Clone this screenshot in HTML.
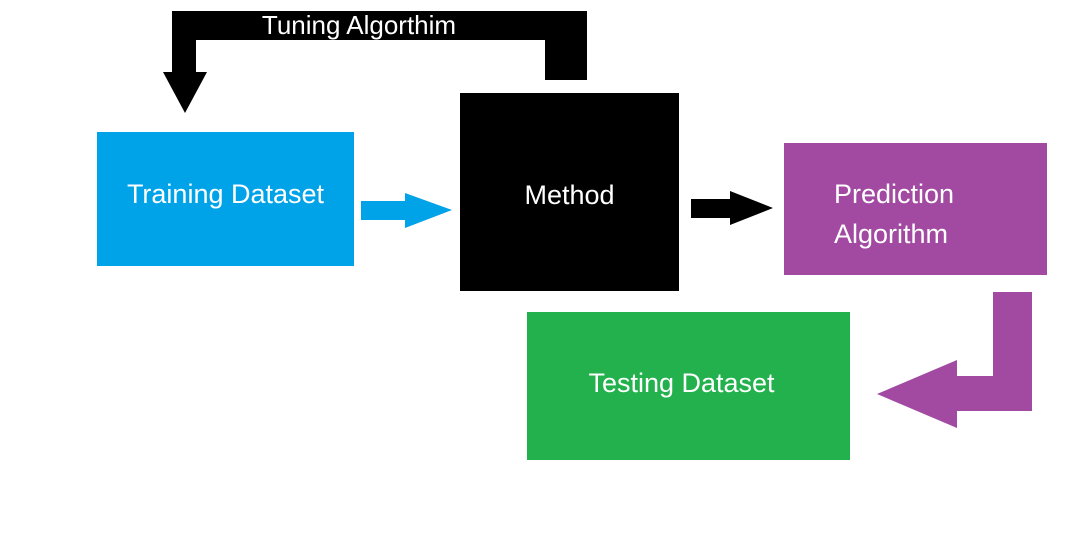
<!DOCTYPE html>
<html><head><style>
body{margin:0;width:1085px;height:546px;background:#fff;position:relative;overflow:hidden;font-family:"Liberation Sans",sans-serif}
.b{position:absolute;color:#fff;font-size:27px;display:flex;align-items:center;justify-content:center;text-align:center;line-height:40px}
</style></head><body>
<svg width="1085" height="546" style="position:absolute;left:0;top:0">
<polygon points="172,11 587,11 587,80 545,80 545,40 196,40 196,72 207,72 185,113 163,72 172,72" fill="#000"/>
<polygon points="993,292 1032,292 1032,411 957,411 957,428 877,394 957,360 957,376 993,376" fill="#a24aa2"/>
<polygon points="361,201 405,201 405,193 452,210 405,228 405,220 361,220" fill="#00a2e8"/>
<polygon points="691,199 730,199 730,191 773,208 730,225 730,218 691,218" fill="#000"/>
</svg>
<div class="b" style="left:172px;top:8px;width:374px;height:34px;font-size:26px">Tuning Algorthim</div>
<div class="b" style="left:97px;top:132px;width:257px;height:124px;background:#00a2e8;padding-bottom:10px">Training Dataset</div>
<div class="b" style="left:460px;top:99px;width:219px;height:192px;background:#000;box-shadow:0 -6px 0 #000">Method</div>
<div class="b" style="left:784px;top:143px;width:263px;height:132px;background:#a24aa2;justify-content:flex-start;padding-left:50px;padding-top:10px;box-sizing:border-box;text-align:left">Prediction<br>Algorithm</div>
<div class="b" style="left:527px;top:312px;width:309px;height:142px;background:#22b14c;padding-right:14px;padding-bottom:6px">Testing Dataset</div>
</body></html>
